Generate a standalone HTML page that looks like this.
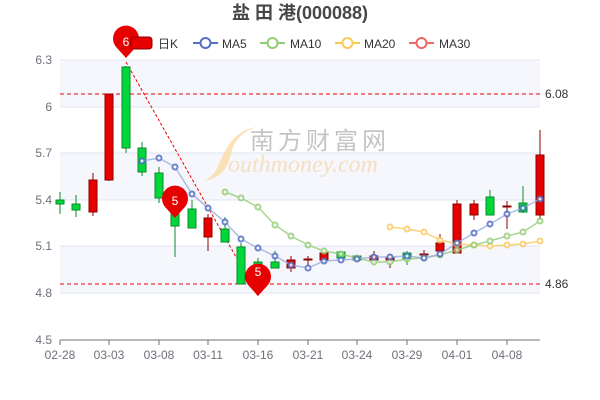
<!DOCTYPE html>
<html><head><meta charset="utf-8"><style>
body{margin:0;background:#fff;}
svg{display:block;font-family:"Liberation Sans","Noto Sans CJK SC",sans-serif;}
</style></head><body>
<svg width="600" height="400" viewBox="0 0 600 400">
<!-- bands -->
<rect x="60" y="60" width="480" height="47" fill="#f5f7fc"/>
<rect x="60" y="153" width="480" height="47" fill="#f5f7fc"/>
<rect x="60" y="246" width="480" height="47" fill="#f5f7fc"/>
<g stroke="#e0e4f0" stroke-width="1">
<line x1="60" y1="60" x2="540" y2="60"/><line x1="60" y1="107" x2="540" y2="107"/>
<line x1="60" y1="153" x2="540" y2="153"/><line x1="60" y1="200" x2="540" y2="200"/>
<line x1="60" y1="246" x2="540" y2="246"/><line x1="60" y1="293" x2="540" y2="293"/>
</g>
<line x1="60" y1="340" x2="540" y2="340" stroke="#6e7079"/>
<g stroke="#6e7079">
<line x1="60" y1="340" x2="60" y2="345"/><line x1="109" y1="340" x2="109" y2="345"/><line x1="159" y1="340" x2="159" y2="345"/><line x1="208" y1="340" x2="208" y2="345"/><line x1="258" y1="340" x2="258" y2="345"/><line x1="308" y1="340" x2="308" y2="345"/><line x1="357" y1="340" x2="357" y2="345"/><line x1="407" y1="340" x2="407" y2="345"/><line x1="457" y1="340" x2="457" y2="345"/><line x1="507" y1="340" x2="507" y2="345"/>
</g>
<g font-size="12" fill="#6e7079" text-anchor="middle">
<text x="60" y="359">02-28</text><text x="109" y="359">03-03</text><text x="159" y="359">03-08</text><text x="208" y="359">03-11</text><text x="258" y="359">03-16</text><text x="308" y="359">03-21</text><text x="357" y="359">03-24</text><text x="407" y="359">03-29</text><text x="457" y="359">04-01</text><text x="507" y="359">04-08</text>
</g>
<g font-size="12" fill="#6e7079" text-anchor="end">
<text x="52" y="64">6.3</text><text x="52" y="111">6</text><text x="52" y="157">5.7</text><text x="52" y="204">5.4</text><text x="52" y="250">5.1</text><text x="52" y="297">4.8</text><text x="52" y="344">4.5</text>
</g>
<!-- watermark -->
<path d="M258,127 C228,130 222,160 215,172 C210,178 206,181 201,182 C222,178 228,168 232,150 C236,138 245,130 258,127 Z" fill="#fbd9a8" opacity="0.8"/>
<text x="250" y="149" font-size="24" fill="#c4c4c4" letter-spacing="4">南方财富网</text>
<text x="228" y="172" font-size="24" fill="#f6dfc0" font-family="Liberation Serif,serif" font-style="italic">outhmoney.com</text>
<!-- dashed lines -->
<line x1="60" y1="94" x2="540" y2="94" stroke="#e00" stroke-dasharray="4,3"/>
<line x1="60" y1="284" x2="540" y2="284" stroke="#e00" stroke-dasharray="4,3"/>
<text x="545" y="98" font-size="12" fill="#333">6.08</text>
<text x="545" y="288" font-size="12" fill="#333">4.86</text>
<line x1="126" y1="62" x2="258" y2="296" stroke="#e00" stroke-dasharray="3,2"/>
<!-- candles -->
<g stroke-width="1">
<g stroke="#0a8a2a" fill="#00d83a">
<line x1="60" y1="192" x2="60" y2="214"/><rect x="56" y="200" width="8" height="4"/>
<line x1="76" y1="195" x2="76" y2="217"/><rect x="72" y="204" width="8" height="6"/>
<line x1="126" y1="66" x2="126" y2="153"/><rect x="122" y="67" width="8" height="81"/>
<line x1="142" y1="142" x2="142" y2="176"/><rect x="138" y="148" width="8" height="24"/>
<line x1="159" y1="167" x2="159" y2="203"/><rect x="155" y="173" width="8" height="25"/>
<line x1="175" y1="195" x2="175" y2="257"/><rect x="171" y="198" width="8" height="28"/>
<line x1="192" y1="200" x2="192" y2="228"/><rect x="188" y="209" width="8" height="19"/>
<line x1="225" y1="217" x2="225" y2="242"/><rect x="221" y="229" width="8" height="13"/>
<line x1="241" y1="243" x2="241" y2="284"/><rect x="237" y="247" width="8" height="37"/>
<line x1="258" y1="258" x2="258" y2="270"/><rect x="254" y="262" width="8" height="6"/>
<line x1="275" y1="251" x2="275" y2="268"/><rect x="271" y="262" width="8" height="6"/>
<line x1="341" y1="251" x2="341" y2="260"/><rect x="337" y="252" width="8" height="6"/>
<line x1="357" y1="255" x2="357" y2="261"/><rect x="353" y="256" width="8" height="4"/>
<line x1="407" y1="251" x2="407" y2="265"/><rect x="403" y="253" width="8" height="6"/>
<line x1="490" y1="190" x2="490" y2="215"/><rect x="486" y="197" width="8" height="18"/>
<line x1="523" y1="186" x2="523" y2="213"/><rect x="519" y="203" width="8" height="9"/>
</g>
<g stroke="#8b0000" fill="#e60000">
<line x1="93" y1="173" x2="93" y2="216"/><rect x="89" y="180" width="8" height="32"/>
<line x1="109" y1="94" x2="109" y2="181"/><rect x="105" y="94" width="8" height="86"/>
<line x1="208" y1="214" x2="208" y2="251"/><rect x="204" y="218" width="8" height="19"/>
<line x1="291" y1="256" x2="291" y2="272"/><rect x="287" y="260" width="8" height="8"/>
<line x1="308" y1="256" x2="308" y2="266"/><rect x="304" y="259" width="8" height="1"/>
<line x1="324" y1="251" x2="324" y2="262"/><rect x="320" y="253" width="8" height="7"/>
<line x1="374" y1="251" x2="374" y2="263"/><rect x="370" y="256" width="8" height="4"/>
<line x1="390" y1="254" x2="390" y2="268"/><rect x="386" y="258" width="8" height="2"/>
<line x1="424" y1="250" x2="424" y2="257"/><rect x="420" y="254" width="8" height="1"/>
<line x1="440" y1="234" x2="440" y2="253"/><rect x="436" y="243" width="8" height="8"/>
<line x1="457" y1="200" x2="457" y2="253"/><rect x="453" y="204" width="8" height="49"/>
<line x1="474" y1="200" x2="474" y2="220"/><rect x="470" y="204" width="8" height="11"/>
<line x1="507" y1="201" x2="507" y2="229"/><rect x="503" y="206" width="8" height="1"/>
<line x1="540" y1="130" x2="540" y2="220"/><rect x="536" y="155" width="8" height="60"/>
</g>
</g>
<!-- MAs -->
<g fill="#fff" stroke-width="2">
<g stroke="#fac858" opacity="0.8"><polyline fill="none" stroke-width="1.5" points="390,227 407,229 424,232 440,240 457,244 474,245 490,246 507,245 523,244 540,241"/>
<circle cx="390" cy="227" r="2.5"/><circle cx="407" cy="229" r="2.5"/><circle cx="424" cy="232" r="2.5"/><circle cx="440" cy="240" r="2.5"/><circle cx="457" cy="244" r="2.5"/><circle cx="474" cy="245" r="2.5"/><circle cx="490" cy="246" r="2.5"/><circle cx="507" cy="245" r="2.5"/><circle cx="523" cy="244" r="2.5"/><circle cx="540" cy="241" r="2.5"/></g>
<g stroke="#91cc75" opacity="0.8"><polyline fill="none" stroke-width="1.5" points="225,192 241,198 258,207 275,225 291,236 308,245 324,251 341,254 357,258 374,262 390,262 407,259 424,258 440,255 457,250 474,245 490,241 507,236 523,232 540,221"/>
<circle cx="225" cy="192" r="2.5"/><circle cx="241" cy="198" r="2.5"/><circle cx="258" cy="207" r="2.5"/><circle cx="275" cy="225" r="2.5"/><circle cx="291" cy="236" r="2.5"/><circle cx="308" cy="245" r="2.5"/><circle cx="324" cy="251" r="2.5"/><circle cx="341" cy="254" r="2.5"/><circle cx="357" cy="258" r="2.5"/><circle cx="374" cy="262" r="2.5"/><circle cx="390" cy="262" r="2.5"/><circle cx="407" cy="259" r="2.5"/><circle cx="424" cy="258" r="2.5"/><circle cx="440" cy="255" r="2.5"/><circle cx="457" cy="250" r="2.5"/><circle cx="474" cy="245" r="2.5"/><circle cx="490" cy="241" r="2.5"/><circle cx="507" cy="236" r="2.5"/><circle cx="523" cy="232" r="2.5"/><circle cx="540" cy="221" r="2.5"/></g>
<g stroke="#5470c6" opacity="0.85"><polyline fill="none" stroke-width="1.5" stroke="#9fb0e0" points="142,161 159,158 175,167 192,194 208,208 225,222 241,239 258,248 275,256 291,265 308,268 324,261 341,260 357,259 374,257 390,257 407,256 424,258 440,254 457,243 474,233 490,224 507,214 523,208 540,199"/>
<circle cx="142" cy="161" r="2.5"/><circle cx="159" cy="158" r="2.5"/><circle cx="175" cy="167" r="2.5"/><circle cx="192" cy="194" r="2.5"/><circle cx="208" cy="208" r="2.5"/><circle cx="225" cy="222" r="2.5"/><circle cx="241" cy="239" r="2.5"/><circle cx="258" cy="248" r="2.5"/><circle cx="275" cy="256" r="2.5"/><circle cx="291" cy="265" r="2.5"/><circle cx="308" cy="268" r="2.5"/><circle cx="324" cy="261" r="2.5"/><circle cx="341" cy="260" r="2.5"/><circle cx="357" cy="259" r="2.5"/><circle cx="374" cy="257" r="2.5"/><circle cx="390" cy="257" r="2.5"/><circle cx="407" cy="256" r="2.5"/><circle cx="424" cy="258" r="2.5"/><circle cx="440" cy="254" r="2.5"/><circle cx="457" cy="243" r="2.5"/><circle cx="474" cy="233" r="2.5"/><circle cx="490" cy="224" r="2.5"/><circle cx="507" cy="214" r="2.5"/><circle cx="523" cy="208" r="2.5"/><circle cx="540" cy="199" r="2.5"/></g>
</g>
<!-- pins -->
<g fill="#e60000">
<path d="M126,58 L117,48 A13,13 0 1 1 135,48 Z"/>
<path d="M175,218 L166,208 A13,13 0 1 1 184,208 Z"/>
<path d="M258,296 L249,286 A13,13 0 1 1 267,286 Z"/>
</g>
<g fill="#fff" font-size="12" text-anchor="middle">
<text x="126" y="46">6</text><text x="175" y="205">5</text><text x="258" y="276">5</text>
</g>
<!-- legend -->
<rect x="131" y="37" width="21" height="12" rx="3" fill="#e60000" stroke="#8b0000"/>
<text x="158" y="48" font-size="12" fill="#333">日K</text>
<line x1="193" y1="43" x2="218" y2="43" stroke="#5470c6" stroke-width="2"/><circle cx="205.5" cy="43" r="5" fill="#fff" stroke="#5470c6" stroke-width="2"/>
<text x="222" y="48" font-size="12" fill="#333">MA5</text>
<line x1="260" y1="43" x2="285" y2="43" stroke="#91cc75" stroke-width="2"/><circle cx="272.5" cy="43" r="5" fill="#fff" stroke="#91cc75" stroke-width="2"/>
<text x="290" y="48" font-size="12" fill="#333">MA10</text>
<line x1="335" y1="43" x2="360" y2="43" stroke="#fac858" stroke-width="2"/><circle cx="347.5" cy="43" r="5" fill="#fff" stroke="#fac858" stroke-width="2"/>
<text x="364" y="48" font-size="12" fill="#333">MA20</text>
<line x1="409" y1="43" x2="434" y2="43" stroke="#ee6666" stroke-width="2"/><circle cx="421.5" cy="43" r="5" fill="#fff" stroke="#ee6666" stroke-width="2"/>
<text x="439" y="48" font-size="12" fill="#333">MA30</text>
<text x="300" y="19" font-size="18" font-weight="bold" fill="#464646" text-anchor="middle">盐 田 港(000088)</text>
</svg>
</body></html>
